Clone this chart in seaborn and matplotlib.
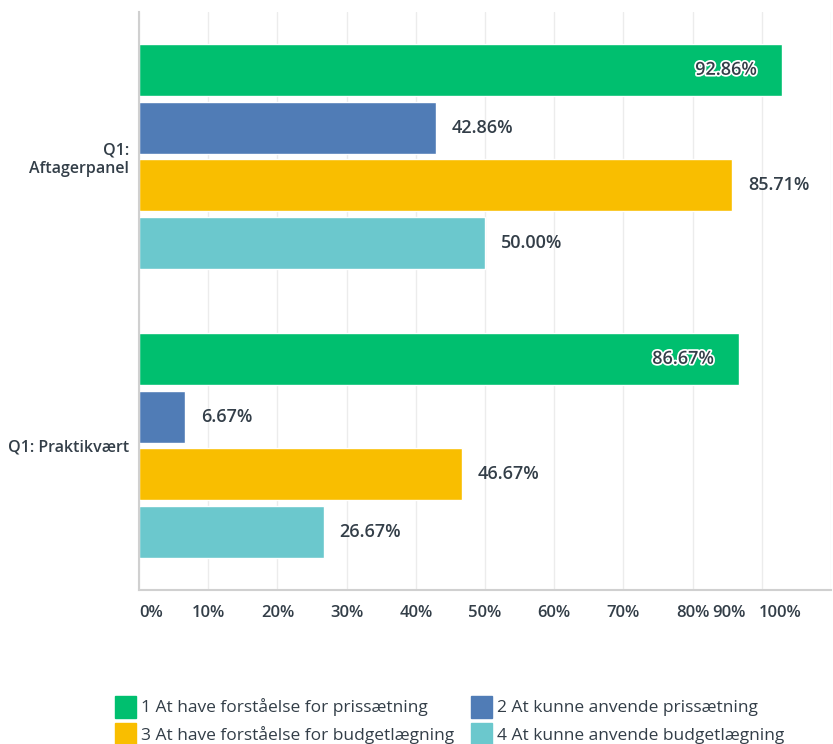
import matplotlib.pyplot as plt
import matplotlib.patheffects as pe
import matplotlib.transforms as mtrans
import pandas as pd
import seaborn as sns

groups = ["Q1:\nAftagerpanel", "Q1: Praktikvært"]
answers = [
    "1 At have forståelse for prissætning",
    "2 At kunne anvende prissætning",
    "3 At have forståelse for budgetlægning",
    "4 At kunne anvende budgetlægning",
]
aftagerpanel = [92.86, 42.86, 85.71, 50.00]
praktikvaert = [86.67, 6.67, 46.67, 26.67]
colors = ["#00bf6f", "#507cb6", "#f9be00", "#6bc8cd"]
xticks = [0, 10, 20, 30, 40, 50, 60, 70, 80, 90, 100]

rows = []
for g, vals in zip(groups, [aftagerpanel, praktikvaert]):
    for a, v in zip(answers, vals):
        rows.append({"group": g, "answer": a, "value": v})
df = pd.DataFrame(rows)

sns.set_theme(style="white")
plt.rcParams["font.family"] = ["Open Sans", "DejaVu Sans"]
text_col = "#333e48"

fig = plt.figure(figsize=(8.33, 7.44), dpi=100)
ax = fig.add_axes([139 / 833, 1 - 590 / 744, 692 / 833, 578 / 744])

sns.barplot(
    data=df, x="value", y="group", hue="answer", hue_order=answers,
    palette=colors, orient="h", width=0.8, gap=0.1, saturation=1,
    legend=False, ax=ax,
)

ax.set_xlim(0, 100)
ax.set_ylim(1.5, -0.5)
ax.set_xticks(xticks)
ax.set_xticklabels([])
ax.tick_params(axis="x", length=0)
ax.tick_params(axis="y", length=0, pad=7, labelsize=11.5, labelcolor=text_col)
for lab in ax.get_yticklabels():
    lab.set_fontweight("semibold")
    lab.set_ha("right")

# x tick labels; the last two are nudged left like the original
shift = {90: -33, 100: -51}
for t in xticks:
    tr = mtrans.blended_transform_factory(ax.transData, ax.transAxes)
    tr = tr + mtrans.ScaledTranslation(shift.get(t, 0) / 100, 0, fig.dpi_scale_trans)
    ax.text(t, -0.04, f"{t}%", transform=tr, ha="left" if t == 0 else "center",
            va="center", fontsize=12, fontweight="semibold", color=text_col)

ax.set_xlabel("")
ax.set_ylabel("")
ax.xaxis.grid(True, color="#ececec", linewidth=1)
ax.set_axisbelow(True)
for s in ["top", "right"]:
    ax.spines[s].set_visible(False)
for s in ["left", "bottom"]:
    ax.spines[s].set_color("#d0d0d0")
    ax.spines[s].set_linewidth(1.5)

for cont in ax.containers:
    for bar in cont:
        v = bar.get_width()
        yc = bar.get_y() + bar.get_height() / 2
        if v >= 86:
            ax.text(v - 3.6, yc, f"{v:.2f}%", ha="right", va="center",
                    fontsize=13, fontweight="semibold", color=text_col,
                    path_effects=[pe.withStroke(linewidth=2.5, foreground="white")])
        else:
            ax.text(v + 2.3, yc, f"{v:.2f}%", ha="left", va="center",
                    fontsize=13, fontweight="semibold", color=text_col)

handles = [plt.Rectangle((0, 0), 1, 1, color=c) for c in colors]
order = [0, 2, 1, 3]
fig.legend(
    [handles[i] for i in order], [answers[i] for i in order],
    loc="upper center", bbox_to_anchor=(0.54, 1 - 680 / 744),
    ncol=2, frameon=False, fontsize=12.5, handlelength=1.2, handleheight=1.6,
    handletextpad=0.3, columnspacing=1.0, labelspacing=0.3,
    labelcolor=text_col,
)

fig.savefig("out.png", dpi=100)
